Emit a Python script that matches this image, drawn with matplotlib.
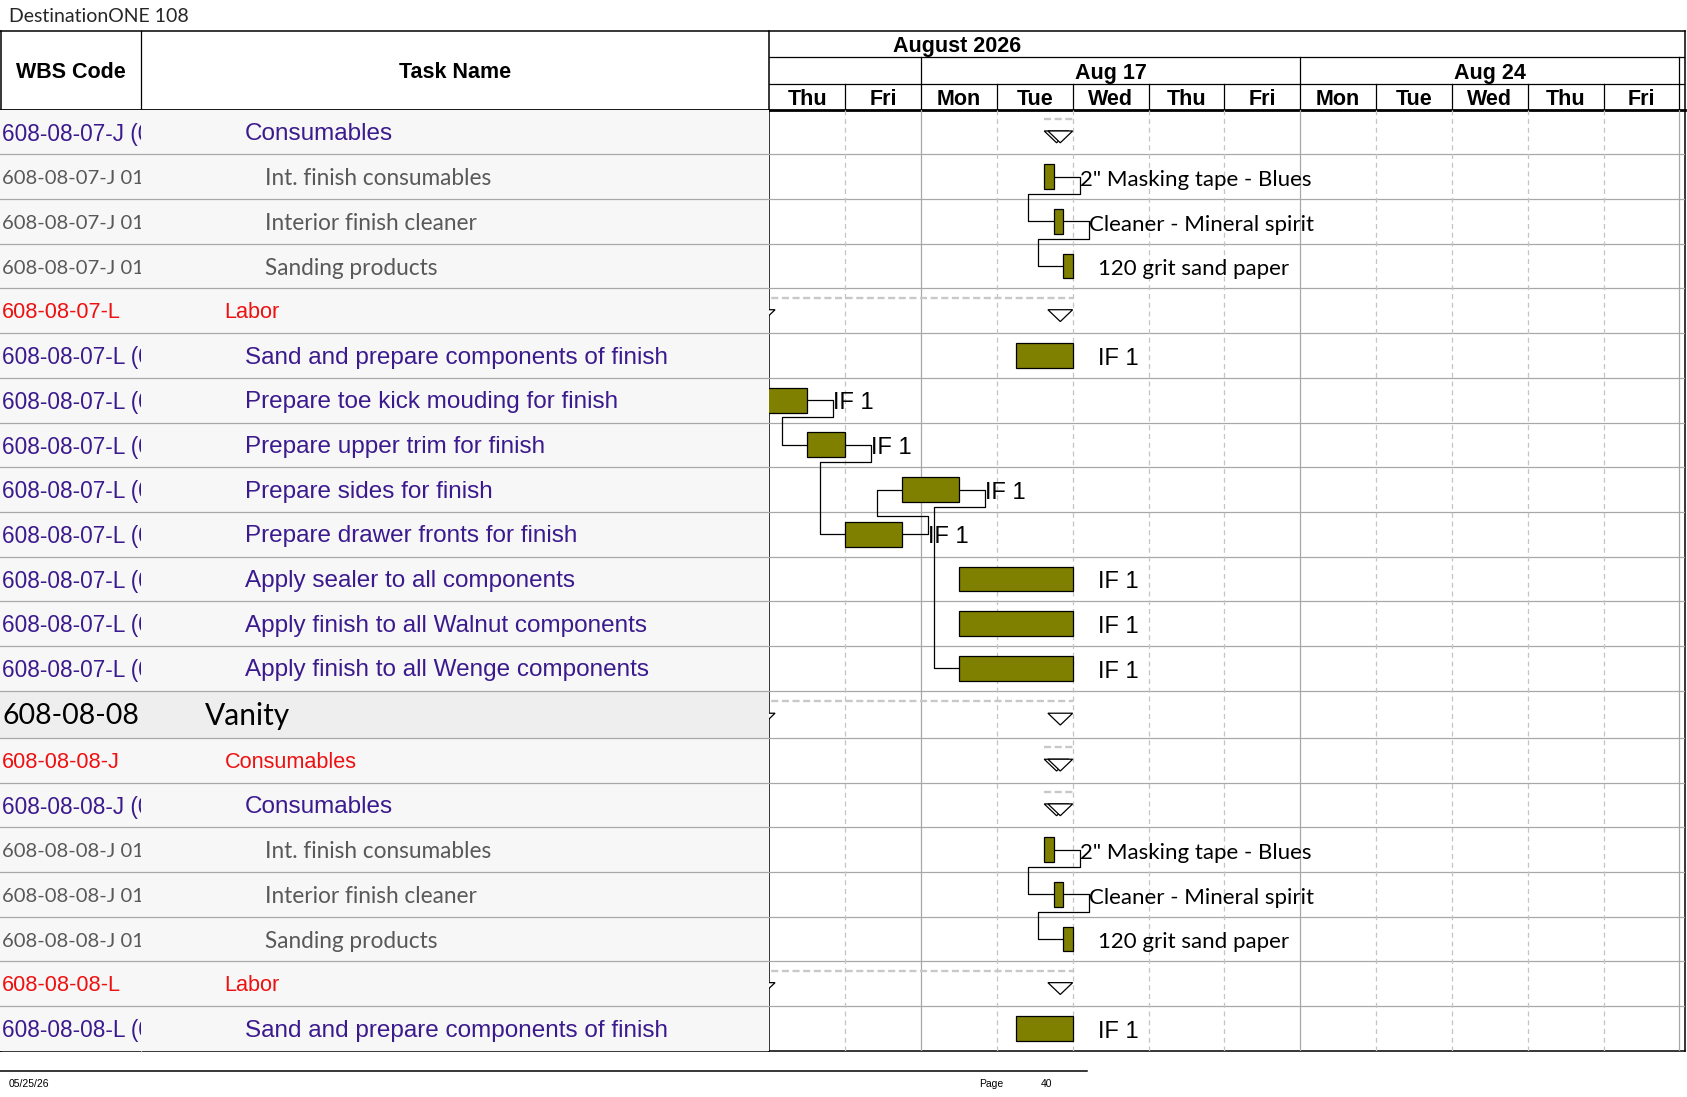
import matplotlib
matplotlib.use("Agg")
import matplotlib.pyplot as plt
from matplotlib.patches import Polygon, Rectangle

# ---------------- data ----------------
title = "DestinationONE 108"
month_label = "August 2026"
week_labels = ["Aug 17", "Aug 24"]
week_start_idx = [2, 7]          # workday index of each week's Monday
day_labels = ["Thu", "Fri", "Mon", "Tue", "Wed", "Thu", "Fri",
              "Mon", "Tue", "Wed", "Thu", "Fri"]

wbs_codes = [
    "608-08-07-J (01)", "608-08-07-J 01.01", "608-08-07-J 01.02", "608-08-07-J 01.03",
    "608-08-07-L", "608-08-07-L (01)", "608-08-07-L (02)", "608-08-07-L (03)",
    "608-08-07-L (04)", "608-08-07-L (05)", "608-08-07-L (06)", "608-08-07-L (07)",
    "608-08-07-L (08)", "608-08-08", "608-08-08-J", "608-08-08-J (01)",
    "608-08-08-J 01.01", "608-08-08-J 01.02", "608-08-08-J 01.03", "608-08-08-L",
    "608-08-08-L (01)",
]
task_names = [
    "Consumables", "Int. finish consumables", "Interior finish cleaner", "Sanding products",
    "Labor", "Sand and prepare components of finish", "Prepare toe kick mouding for finish",
    "Prepare upper trim for finish", "Prepare sides for finish", "Prepare drawer fronts for finish",
    "Apply sealer to all components", "Apply finish to all Walnut components",
    "Apply finish to all Wenge components", "Vanity", "Consumables", "Consumables",
    "Int. finish consumables", "Interior finish cleaner", "Sanding products", "Labor",
    "Sand and prepare components of finish",
]
levels = [2, 3, 3, 3, 1, 2, 2, 2, 2, 2, 2, 2, 2, 0, 1, 2, 3, 3, 3, 1, 2]
is_summary = [True, False, False, False, True, False, False, False, False, False, False,
              False, False, True, True, True, False, False, False, True, False]
# start / finish in workdays counted from Thu Aug 13, 2026
starts = [3.625, 3.625, 3.75, 3.875, -0.25, 3.25, -0.25, 0.5, 1.75, 1.0, 2.5, 2.5, 2.5,
          -0.25, 3.625, 3.625, 3.625, 3.75, 3.875, -0.25, 3.25]
finishes = [4.0, 3.75, 3.875, 4.0, 4.0, 4.0, 0.5, 1.0, 2.5, 1.75, 4.0, 4.0, 4.0,
            4.0, 4.0, 4.0, 3.75, 3.875, 4.0, 4.0, 4.0]
bar_labels = ["", '2" Masking tape - Blues', "Cleaner - Mineral spirit", "120 grit sand paper",
              "", "IF 1", "IF 1", "IF 1", "IF 1", "IF 1", "IF 1", "IF 1", "IF 1",
              "", "", "", '2" Masking tape - Blues', "Cleaner - Mineral spirit",
              "120 grit sand paper", "", "IF 1"]
links = [(1, 2), (2, 3), (6, 7), (7, 9), (9, 8), (8, 12), (16, 17), (17, 18)]
footer_date = "05/25/26"
footer_page_word = "Page"
footer_page = "40"

# ---------------- layout / style ----------------
W, H = 1568.0, 1020.0
fig = plt.figure(figsize=(16.87, 10.97), dpi=100)
ARIAL = ["Liberation Sans", "DejaVu Sans"]
CALIBRI = ["Lato", "DejaVu Sans"]
PURPLE = "#3b1a8e"
RED = "#ee1111"
GRAY_T = "#595959"
GRID = "#a8a8a8"
BAR = "#808000"

TOP, HEAD_BOT, BODY_BOT = 29.0, 102.0, 977.0
X_WBS, X_TASK, X_GANTT, X_RIGHT = 0.0, 131.0, 715.0, 1566.0
DAY_W = 70.5
N_DAYS_VIEW = (X_RIGHT - X_GANTT) / DAY_W
TXT_DY = 2.0
LAB_DY = 3.0


def fx(x):
    return x / W


def fy(y):
    return 1 - y / H


def make_ax(x0, x1, y0, y1):
    ax = fig.add_axes([fx(x0), fy(y1), fx(x1) - fx(x0), (y1 - y0) / H])
    ax.set_ylim(y1, y0)
    ax.axis("off")
    return ax


ax_bg = fig.add_axes([0, 0, 1, 1])
ax_bg.set_xlim(0, W)
ax_bg.set_ylim(H, 0)
ax_bg.axis("off")

ax_wbs = make_ax(X_WBS, X_TASK, HEAD_BOT, BODY_BOT)
ax_wbs.set_xlim(X_WBS, X_TASK)
ax_task = make_ax(X_TASK, X_GANTT, HEAD_BOT, BODY_BOT)
ax_task.set_xlim(X_TASK, X_GANTT)
ax_g = make_ax(X_GANTT, X_RIGHT, HEAD_BOT, BODY_BOT)
ax_g.set_xlim(0, N_DAYS_VIEW)
ax_h = make_ax(X_GANTT, X_RIGHT, TOP, HEAD_BOT)
ax_h.set_xlim(0, N_DAYS_VIEW)

# row geometry
n = len(task_names)
VAN_H = 44.0
norm_h = (BODY_BOT - HEAD_BOT - VAN_H * levels.count(0)) / (n - levels.count(0))
tops, centers = [], []
y = HEAD_BOT
for lv in levels:
    h = VAN_H if lv == 0 else norm_h
    tops.append(y)
    centers.append(y + h / 2)
    y += h
bounds = tops + [BODY_BOT]

# ---------------- table body ----------------
for i, lv in enumerate(levels):
    fc = "#eeeeee" if lv == 0 else "#f7f7f7"
    for ax, (a, b) in ((ax_wbs, (X_WBS, X_TASK)), (ax_task, (X_TASK, X_GANTT))):
        ax.add_patch(Rectangle((a, tops[i]), b - a, bounds[i + 1] - tops[i],
                               facecolor=fc, edgecolor="none", zorder=0))
for yb in bounds[1:-1]:
    for ax in (ax_wbs, ax_task):
        ax.axhline(yb, color=GRID, lw=0.9, zorder=1)
    ax_g.axhline(yb, color=GRID, lw=0.9, zorder=1)

style = {
    0: dict(color="black", fam=CALIBRI, code_size=20.5, task_size=21.5),
    1: dict(color=RED, fam=ARIAL, code_size=15.7, task_size=15.6),
    2: dict(color=PURPLE, fam=ARIAL, code_size=16.3, task_size=17.5),
    3: dict(color=GRAY_T, fam=CALIBRI, code_size=14.6, task_size=16.3),
}
for i, (code, name, lv) in enumerate(zip(wbs_codes, task_names, levels)):
    st = style[lv]
    ax_wbs.text(2, centers[i] + TXT_DY, code, color=st["color"], family=st["fam"],
                fontsize=st["code_size"], va="center", ha="left", clip_on=True, zorder=3)
    ax_task.text(190 + 18.7 * lv, centers[i] + TXT_DY, name, color=st["color"], family=st["fam"],
                 fontsize=st["task_size"], va="center", ha="left", zorder=3)

# ---------------- gantt grid ----------------
for k in range(1, len(day_labels) + 1):
    week_end = day_labels[k - 1] == "Fri"
    ax_g.axvline(k, color=GRID if week_end else "#c4c4c4", lw=0.9,
                 ls="-" if week_end else (0, (4, 3)), zorder=1)

# bars
task_idx = [i for i in range(n) if not is_summary[i]]
ax_g.barh([centers[i] for i in task_idx],
          [finishes[i] - starts[i] for i in task_idx],
          left=[starts[i] for i in task_idx], height=23,
          color=BAR, edgecolor="black", linewidth=0.9, zorder=4)

# summary markers
TRI_W = 23.0 / DAY_W
TRI_H = 11.0
for i in range(n):
    if not is_summary[i]:
        continue
    c = centers[i]
    ax_g.plot([starts[i], finishes[i]], [c - 12, c - 12], color="#c8c8c8", lw=1.7,
              ls=(0, (3, 1.5)), zorder=2, solid_capstyle="butt")
    for x0 in (starts[i], finishes[i] - TRI_W):
        ax_g.add_patch(Polygon([(x0, c - 1), (x0 + TRI_W, c - 1), (x0 + TRI_W / 2, c - 1 + TRI_H)],
                               closed=True, facecolor="white", edgecolor="black", lw=0.9, zorder=5))

# links
DX_OUT = 24.0 / DAY_W
DX_IN = 23.5 / DAY_W
for p, s in links:
    yp, ys = centers[p], centers[s]
    dy = 16 if ys > yp else -17
    xs = [finishes[p], finishes[p] + DX_OUT, finishes[p] + DX_OUT, starts[s] - DX_IN,
          starts[s] - DX_IN, starts[s]]
    ys_ = [yp, yp, yp + dy, yp + dy, ys, ys]
    ax_g.plot(xs, ys_, color="black", lw=0.9, zorder=3)

# bar labels
for i, lab in enumerate(bar_labels):
    if not lab:
        continue
    is_if = lab.startswith("IF")
    ax_g.text(finishes[i] + DX_OUT, centers[i] + LAB_DY, lab,
              family=ARIAL if is_if else CALIBRI, fontsize=17 if is_if else 16.0,
              va="center", ha="left", color="black", zorder=6)

# ---------------- header ----------------
LW_B = 1.1
ax_bg.plot([X_WBS, X_RIGHT], [TOP, TOP], color="black", lw=LW_B)
ax_bg.plot([X_WBS, X_RIGHT], [HEAD_BOT, HEAD_BOT], color="black", lw=2.0)
ax_bg.plot([X_WBS, X_RIGHT], [BODY_BOT, BODY_BOT], color="black", lw=LW_B)
ax_bg.plot([X_WBS + 0.6, X_WBS + 0.6], [TOP, BODY_BOT], color="black", lw=LW_B)
ax_bg.plot([X_GANTT, X_GANTT], [TOP, BODY_BOT], color="black", lw=LW_B)
ax_bg.plot([X_RIGHT, X_RIGHT], [TOP, BODY_BOT], color="black", lw=LW_B)
ax_bg.plot([X_TASK, X_TASK], [TOP, HEAD_BOT], color="black", lw=0.9)
ax_bg.plot([X_TASK, X_TASK], [HEAD_BOT, BODY_BOT], color=GRID, lw=0.9)

hdr = dict(family=ARIAL, fontsize=15.5, fontweight="bold", ha="center", va="center")
ax_bg.text((X_WBS + X_TASK) / 2, 67, "WBS Code", **hdr)
ax_bg.text(423, 67, "Task Name", **hdr)

T1, T2 = 53.0, 78.0
ax_h.axhline(T1, color="black", lw=0.9)
ax_h.axhline(T2, color="black", lw=0.9)
ax_h.text(2.48, (TOP + T1) / 2 + 2, month_label, **hdr)
for ws, wl in zip(week_start_idx, week_labels):
    ax_h.text(ws + 2.5, (T1 + T2) / 2 + 2.5, wl, **hdr)
for ws in week_start_idx + [week_start_idx[-1] + 5]:
    ax_h.plot([ws, ws], [T1, T2], color="black", lw=0.9)
for k, dl in enumerate(day_labels):
    ax_h.text(k + 0.5, (T2 + HEAD_BOT) / 2 + 2.5, dl, **hdr)
    ax_h.plot([k + 1, k + 1], [T2, HEAD_BOT], color="black", lw=0.9)

# title and footer
ax_bg.text(8, 15, title, family=CALIBRI, fontsize=14, ha="left", va="center",
           color="#262626")
ax_bg.plot([0, 1010], [996, 996], color="black", lw=1.1)
ax_bg.text(8, 1008, footer_date, family=ARIAL, fontsize=7.5, ha="left", va="center")
ax_bg.text(910, 1008, footer_page_word, family=ARIAL, fontsize=7.5, ha="left", va="center")
ax_bg.text(967, 1008, footer_page, family=ARIAL, fontsize=7.5, ha="left", va="center")

fig.savefig("out.png", dpi=100, facecolor="white")
